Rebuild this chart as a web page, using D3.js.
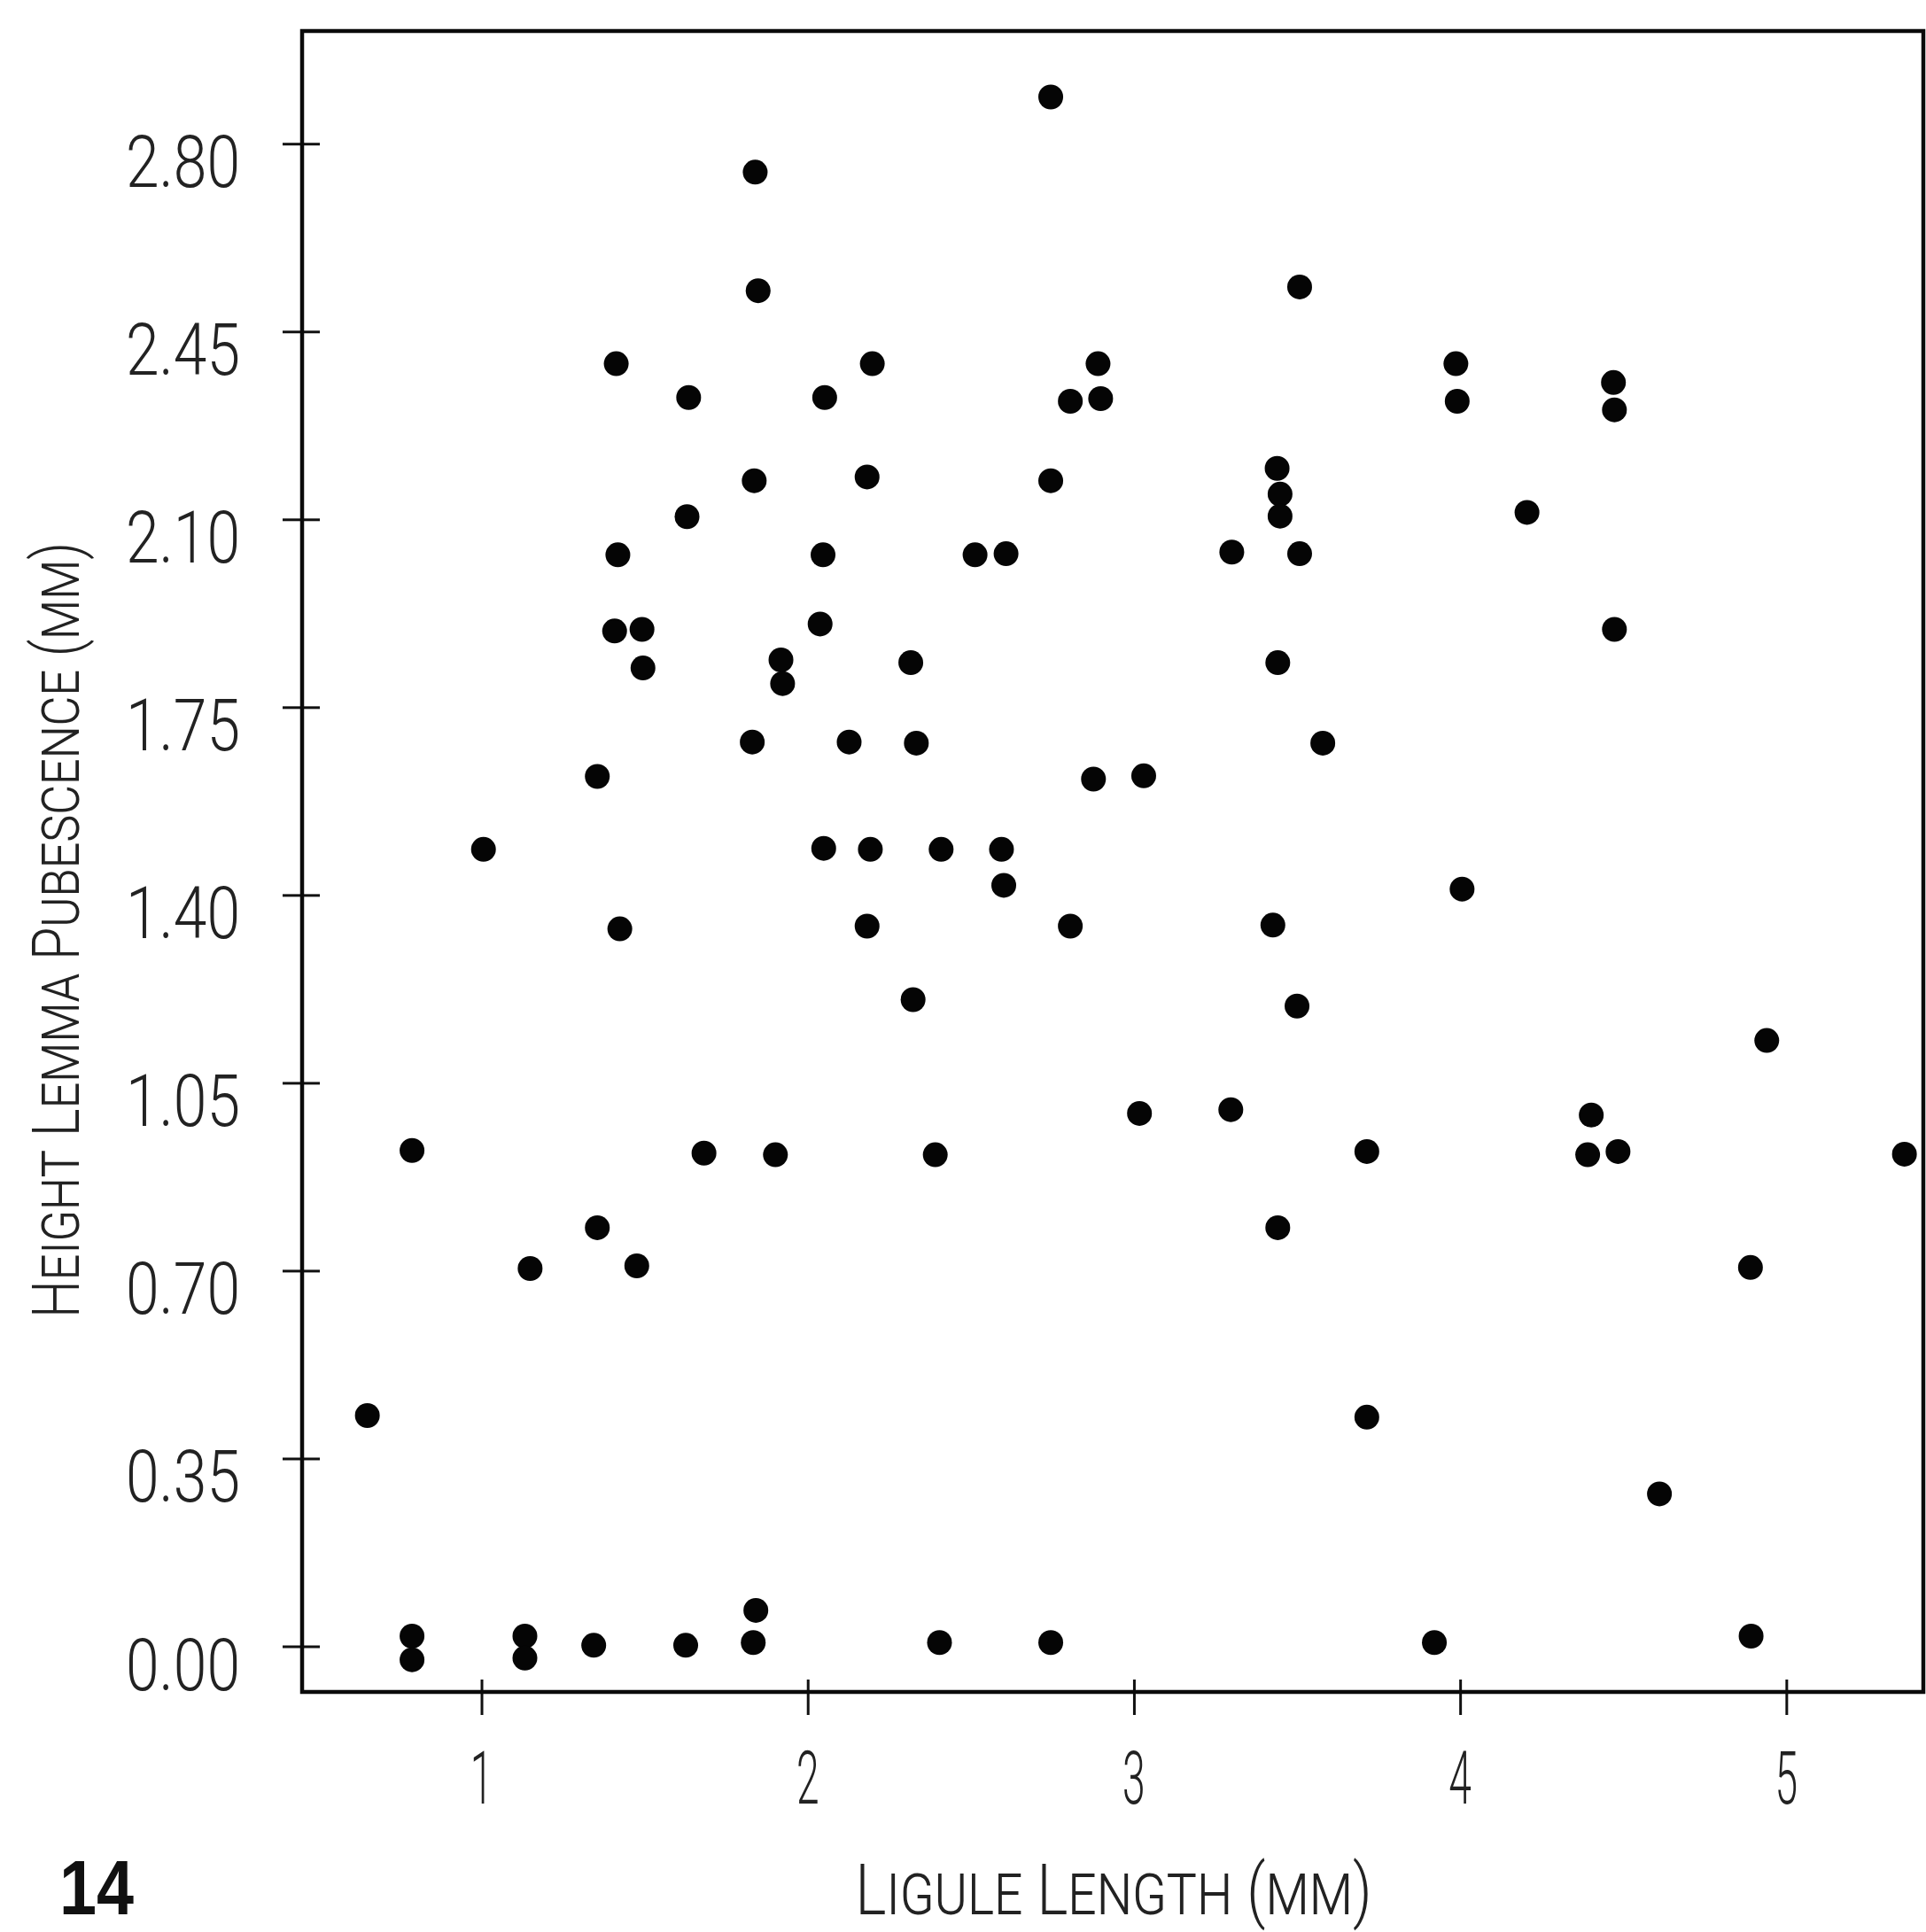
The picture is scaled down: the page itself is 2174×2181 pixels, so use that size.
<!DOCTYPE html>
<html>
<head>
<meta charset="utf-8">
<script src="https://cdn.jsdelivr.net/npm/d3@7"></script>
<style>
  html, body { margin: 0; padding: 0; background: #fff; }
  svg { display: block; }
  .lbl { font-family: Roboto, "DejaVu Sans", sans-serif; font-weight: 300; fill: #222; }
</style>
</head>
<body>
<svg class="plot" width="2174" height="2181"></svg>
<script>
// ligule length (mm)
const ligule = [
  1.839, 1.848, 1.413, 1.635, 2.052, 1.836, 1.630, 1.418, 2.047, 1.408,
  1.492, 2.038, 1.495, 1.918, 1.923, 1.830, 1.355, 1.006, 2.049,
  2.745, 3.508, 2.198, 2.890, 2.805, 2.898, 2.182, 2.745, 3.439, 3.448,
  3.448, 2.513, 2.608, 3.300, 3.508, 2.316, 3.441, 2.127, 2.333, 3.579,
  2.876, 3.030, 2.192, 2.409, 2.594,
  3.987, 3.991, 4.470, 4.473, 4.205, 4.473,
  1.424, 0.787, 1.682, 1.901, 1.355, 1.149, 1.476, 0.650, 0.787, 0.787,
  1.133, 1.133, 1.344, 1.626, 1.841, 1.833,
  2.601, 2.182, 2.805, 3.426, 2.323, 3.500, 3.017, 3.297, 2.391, 3.714,
  3.441, 3.714, 2.404, 2.745,
  4.006, 4.940, 4.402, 4.391, 4.484, 5.362, 4.890, 4.611, 3.921, 4.892
];

// height of lemma pubescence (mm)
const pubescence = [
  2.747, 2.526, 2.390, 2.327, 2.327, 2.172, 2.105, 2.034, 2.034, 1.892,
  1.895, 1.905, 1.823, 1.838, 1.794, 1.685, 1.621, 1.485, 1.487,
  2.887, 2.533, 2.390, 2.390, 2.320, 2.325, 2.179, 2.172, 2.195, 2.147,
  2.106, 2.034, 2.036, 2.039, 2.036, 1.833, 1.833, 1.685, 1.683, 1.683,
  1.616, 1.622, 1.485, 1.485, 1.485,
  2.390, 2.320, 2.355, 2.304, 2.113, 1.895,
  1.337, 0.924, 0.919, 0.916, 0.780, 0.704, 0.709, 0.430, 0.019, -0.025,
  0.019, -0.022, 0.002, 0.002, 0.067, 0.007,
  1.418, 1.342, 1.342, 1.344, 1.205, 1.193, 0.993, 1.000, 0.916, 0.922,
  0.780, 0.427, 0.007, 0.007,
  1.411, 1.129, 0.990, 0.916, 0.922, 0.917, 0.706, 0.284, 0.007, 0.019
];

const xTicks = [1, 2, 3, 4, 5];
const yTicks = [0, 0.35, 0.70, 1.05, 1.40, 1.75, 2.10, 2.45, 2.80];

const xTitle = "Ligule Length (mm)";
const yTitle = "Height Lemma Pubescence (mm)";
const figNumber = "14";

const points = ligule.map((d, i) => ({ x: d, y: pubescence[i] }));

const W = 2174, H = 2181;
const margin = { top: 35, right: 3, bottom: 271, left: 341 };

const svg = d3.select(".plot");

const xScale = d3.scaleLinear()
  .domain([0.45, 5.42])
  .range([margin.left, W - margin.right]);

const yScale = d3.scaleLinear()
  .domain([-0.085, 3.01])
  .range([H - margin.bottom, margin.top]);

const [x0, x1] = xScale.range();
const [y0, y1] = yScale.range();

// ticks crossing the frame
svg.append("g")
  .attr("transform", `translate(${x0},0)`)
  .call(d3.axisLeft(yScale).tickValues(yTicks).tickSize(22).tickFormat(""))
  .call(g => g.select(".domain").remove());
svg.append("g")
  .attr("transform", `translate(${x0},0)`)
  .call(d3.axisRight(yScale).tickValues(yTicks).tickSize(20).tickFormat(""))
  .call(g => g.select(".domain").remove());
svg.append("g")
  .attr("transform", `translate(0,${y0})`)
  .call(d3.axisBottom(xScale).tickValues(xTicks).tickSize(26).tickFormat(""))
  .call(g => g.select(".domain").remove());
svg.append("g")
  .attr("transform", `translate(0,${y0})`)
  .call(d3.axisTop(xScale).tickValues(xTicks).tickSize(14).tickFormat(""))
  .call(g => g.select(".domain").remove());

svg.selectAll(".tick line")
  .attr("stroke", "#111")
  .attr("stroke-width", 3);

// frame
svg.append("rect")
  .attr("x", x0)
  .attr("y", y1)
  .attr("width", x1 - x0)
  .attr("height", y0 - y1)
  .attr("fill", "none")
  .attr("stroke", "#0a0a0a")
  .attr("stroke-width", 4.5);

// tick labels
const fmt = d3.format(".2f");
svg.append("g")
  .selectAll("text")
  .data(yTicks)
  .join("text")
  .attr("class", "lbl")
  .attr("x", 271)
  .attr("y", d => yScale(d) + 49)
  .attr("text-anchor", "end")
  .attr("font-size", 82)
  .attr("textLength", 129)
  .attr("lengthAdjust", "spacingAndGlyphs")
  .text(d => fmt(d));

svg.append("g")
  .selectAll("text")
  .data(xTicks)
  .join("text")
  .attr("class", "lbl")
  .attr("transform", d => `translate(${xScale(d)},2036) scale(0.55,1)`)
  .attr("text-anchor", "middle")
  .attr("font-size", 84)
  .text(d => d);

// axis titles
svg.append("text")
  .attr("class", "lbl")
  .attr("x", 1257)
  .attr("y", 2161)
  .attr("text-anchor", "middle")
  .attr("font-size", 80)
  .attr("font-variant", "small-caps")
  .attr("textLength", 583)
  .attr("lengthAdjust", "spacingAndGlyphs")
  .text(xTitle);

svg.append("text")
  .attr("class", "lbl")
  .attr("transform", "translate(89,1050) rotate(-90)")
  .attr("text-anchor", "middle")
  .attr("font-size", 74)
  .attr("font-variant", "small-caps")
  .attr("textLength", 876)
  .attr("lengthAdjust", "spacingAndGlyphs")
  .text(yTitle);

svg.append("text")
  .attr("x", 67)
  .attr("y", 2161)
  .attr("font-family", "'Liberation Sans', Arial, sans-serif")
  .attr("font-weight", "bold")
  .attr("font-size", 88)
  .attr("textLength", 84)
  .attr("lengthAdjust", "spacingAndGlyphs")
  .attr("fill", "#111")
  .text(figNumber);

// points
svg.append("g")
  .selectAll("circle")
  .data(points)
  .join("circle")
  .attr("cx", d => xScale(d.x))
  .attr("cy", d => yScale(d.y))
  .attr("r", 14)
  .attr("fill", "#050505");
</script>
</body>
</html>
